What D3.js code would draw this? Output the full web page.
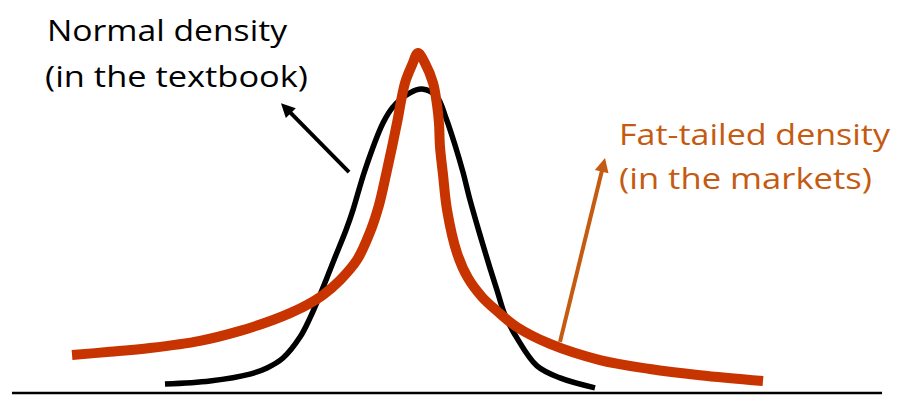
<!DOCTYPE html>
<html>
<head>
<meta charset="utf-8">
<script src="https://cdn.jsdelivr.net/npm/d3@7"></script>
<style>
  html, body { margin: 0; padding: 0; background: #fff; }
  svg { display: block; }
</style>
</head>
<body>
<svg id="chart" width="897" height="395"></svg>
<script>
// Normal density (textbook)
const normalX = [-3.643,-3.0,-2.429,-2.186,-1.957,-1.714,-1.571,-1.4,-1.229,-1.057,-0.957,-0.786,-0.529,-0.386,-0.143,0.029,0.243,0.371,0.5,0.614,0.714,0.857,1.0,1.1,1.214,1.386,1.671,2.0,2.5];
const normalY = [0.026,0.035,0.055,0.073,0.102,0.163,0.219,0.300,0.388,0.475,0.534,0.650,0.787,0.834,0.875,0.886,0.863,0.802,0.723,0.644,0.563,0.461,0.364,0.300,0.227,0.160,0.079,0.044,0.015];

// Fat-tailed density (markets)
const fatX = [-4.971,-4.429,-3.857,-3.143,-2.571,-2.1,-1.857,-1.614,-1.386,-1.143,-0.9,-0.714,-0.586,-0.486,-0.4,-0.329,-0.214,-0.114,-0.029,0.071,0.186,0.243,0.271,0.286,0.329,0.386,0.529,0.686,0.886,1.1,1.386,1.857,2.571,3.286,4.0,4.9];
const fatY = [0.111,0.120,0.131,0.152,0.181,0.213,0.233,0.257,0.286,0.329,0.388,0.469,0.548,0.636,0.717,0.787,0.904,0.956,0.991,0.962,0.904,0.840,0.787,0.717,0.636,0.534,0.408,0.335,0.280,0.239,0.192,0.143,0.096,0.070,0.052,0.035];

// Annotation arrows [tailX, tailY, tipX, tipY] in data units
const arrowNormal = [-1.014, 0.644, -1.986, 0.845];
const arrowFat = [2.0, 0.149, 2.643, 0.685];

const labelsNormal = ["Normal density", "(in the textbook)"];
const labelsFat = ["Fat-tailed density", "(in the markets)"];

const svg = d3.select("#chart");
const x = d3.scaleLinear().domain([-5, 5]).range([70, 770]);
const y = d3.scaleLinear().domain([0, 1]).range([393, 50]);

const redColor = "#C83400";
const orange = "#C55A11";

// baseline
svg.append("line")
  .attr("x1", x(-5.829)).attr("x2", x(6.600))
  .attr("y1", y(0)).attr("y2", y(0))
  .attr("stroke", "#000").attr("stroke-width", 2.5);

const line = d3.line().x(d => x(d[0])).y(d => y(d[1])).curve(d3.curveCatmullRom.alpha(0.5));

svg.append("path")
  .datum(normalX.map((v, i) => [v, normalY[i]]))
  .attr("d", line)
  .attr("fill", "none").attr("stroke", "#000").attr("stroke-width", 5.5)
  .attr("stroke-linejoin", "round");

svg.append("path")
  .datum(fatX.map((v, i) => [v, fatY[i]]))
  .attr("d", line)
  .attr("fill", "none").attr("stroke", redColor).attr("stroke-width", 10)
  .attr("stroke-linejoin", "round");

function drawArrow(a, color) {
  const x1 = x(a[0]), y1 = y(a[1]), x2 = x(a[2]), y2 = y(a[3]);
  const dx = x2 - x1, dy = y2 - y1, L = Math.hypot(dx, dy);
  const ux = dx / L, uy = dy / L;
  const hl = 14, hw = 7;
  const bx = x2 - ux * hl, by = y2 - uy * hl;
  svg.append("line")
    .attr("x1", x1).attr("y1", y1).attr("x2", bx + ux * 2).attr("y2", by + uy * 2)
    .attr("stroke", color).attr("stroke-width", 4);
  svg.append("path")
    .attr("d", `M${x2},${y2} L${bx - uy * hw},${by + ux * hw} L${bx + uy * hw},${by - ux * hw} Z`)
    .attr("fill", color);
}
drawArrow(arrowNormal, "#000");
drawArrow(arrowFat, orange);

function drawLabel(lines, px, pys, widths, color) {
  lines.forEach((t, i) => {
    svg.append("text")
      .attr("x", px[i]).attr("y", pys[i])
      .attr("font-family", "'Open Sans', Lato, sans-serif")
      .attr("font-size", 30)
      .attr("fill", color)
      .attr("textLength", widths[i])
      .attr("lengthAdjust", "spacingAndGlyphs")
      .text(t);
  });
}
drawLabel(labelsNormal, [47, 45], [41, 87], [240, 263], "#000");
drawLabel(labelsFat, [619, 619], [145, 189], [271, 253], orange);
</script>
</body>
</html>
